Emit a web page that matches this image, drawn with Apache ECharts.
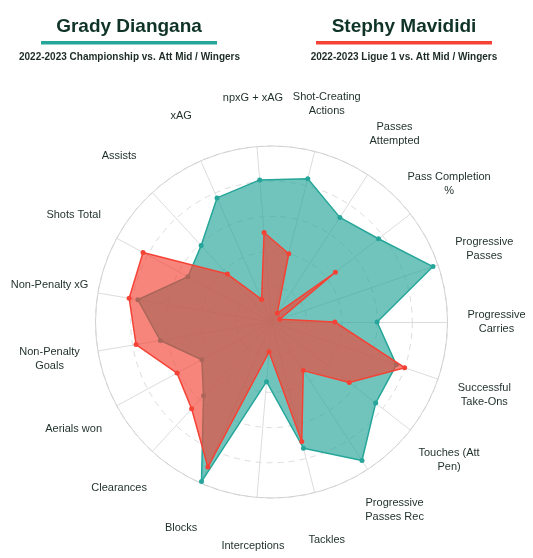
<!DOCTYPE html>
<html>
<head>
<meta charset="utf-8">
<script src="https://cdn.jsdelivr.net/npm/echarts@6/dist/echarts.min.js"></script>
<style>
  html, body { margin: 0; padding: 0; background: #fff; }
  #chart { width: 533px; height: 558px; }
</style>
</head>
<body>
<div id="chart"></div>
<script>
// indicators listed counter-clockwise, starting at 3 o'clock
const categories = [
  'Progressive\nCarries', 'Progressive\nPasses', 'Pass Completion\n%', 'Passes\nAttempted',
  'Shot-Creating\nActions', 'npxG + xAG', 'xAG', 'Assists', 'Shots Total', 'Non-Penalty xG',
  'Non-Penalty\nGoals', 'Aerials won', 'Clearances', 'Blocks', 'Interceptions', 'Tackles',
  'Progressive\nPasses Rec', 'Touches (Att\nPen)', 'Successful\nTake-Ons'
]
const gradyValues = [60, 97, 77, 71, 84, 81, 77, 59, 54, 77, 64, 45, 57, 99, 34, 74, 94, 75, 75]
const stephyValues = [36, 5, 46, 6, 40, 51, 14, 37, 83, 82, 78, 61, 67, 90, 17, 70, 33, 56, 80]
const players = ['Grady Diangana', 'Stephy Mavididi']
const subtitles = ['2022-2023 Championship vs. Att Mid / Wingers', '2022-2023 Ligue 1 vs. Att Mid / Wingers']

const teal = '#26a69a'
const red = '#f44336'
const indicator = categories.map(name => ({ name: name, min: 0, max: 100 }))

const chart = echarts.init(document.getElementById('chart'))
chart.setOption({
  animation: false,
  graphic: [
    { type: 'text', x: 129, y: 27, style: { text: players[0], font: 'bold 19px "Liberation Sans", Arial', fill: '#0f3326', align: 'center', verticalAlign: 'middle' } },
    { type: 'rect', shape: { x: 41, y: 41, width: 176, height: 3.5 }, style: { fill: teal } },
    { type: 'text', x: 129.5, y: 57.5, style: { text: subtitles[0], font: 'bold 10px "Liberation Sans", Arial', fill: '#1c2b27', align: 'center', verticalAlign: 'middle' } },
    { type: 'text', x: 404, y: 27, style: { text: players[1], font: 'bold 19px "Liberation Sans", Arial', fill: '#0f3326', align: 'center', verticalAlign: 'middle' } },
    { type: 'rect', shape: { x: 316, y: 41, width: 176, height: 3.5 }, style: { fill: red } },
    { type: 'text', x: 404, y: 57.5, style: { text: subtitles[1], font: 'bold 10px "Liberation Sans", Arial', fill: '#1c2b27', align: 'center', verticalAlign: 'middle' } }
  ],
  radar: [
    {
      indicator: indicator,
      center: [271.5, 322],
      radius: 176,
      startAngle: 0,
      shape: 'circle',
      splitNumber: 5,
      nameGap: 49,
      axisName: {
        color: '#1e2f2b',
        fontSize: 11,
        fontFamily: '"Liberation Sans", Arial',
        lineHeight: 14,
        align: 'center',
        verticalAlign: 'middle'
      },
      axisLine: { lineStyle: { color: '#dcdcdc', width: 1 } },
      splitLine: { lineStyle: { color: '#dcdcdc', type: [6, 5], width: 1 } },
      splitArea: { show: false },
      axisTick: { show: false }
    },
    {
      indicator: indicator.map(d => ({ name: '', min: 0, max: 100 })),
      center: [271.5, 322],
      radius: 176,
      startAngle: 0,
      shape: 'circle',
      splitNumber: 1,
      axisName: { show: false },
      axisLine: { show: false },
      splitLine: { lineStyle: { color: '#d2d2d2', width: 1 } },
      splitArea: { show: false }
    }
  ],
  series: [
    {
      type: 'radar',
      radarIndex: 0,
      z: 2,
      symbol: 'circle',
      symbolSize: 5,
      data: [
        {
          value: gradyValues,
          name: players[0],
          itemStyle: { color: teal },
          lineStyle: { color: teal, width: 1.5 },
          areaStyle: { color: teal, opacity: 0.66 }
        }
      ]
    },
    {
      type: 'radar',
      radarIndex: 0,
      z: 3,
      symbol: 'circle',
      symbolSize: 5,
      data: [
        {
          value: stephyValues,
          name: players[1],
          itemStyle: { color: red },
          lineStyle: { color: red, width: 1.5 },
          areaStyle: { color: red, opacity: 0.65 }
        }
      ]
    }
  ]
})
</script>
</body>
</html>
